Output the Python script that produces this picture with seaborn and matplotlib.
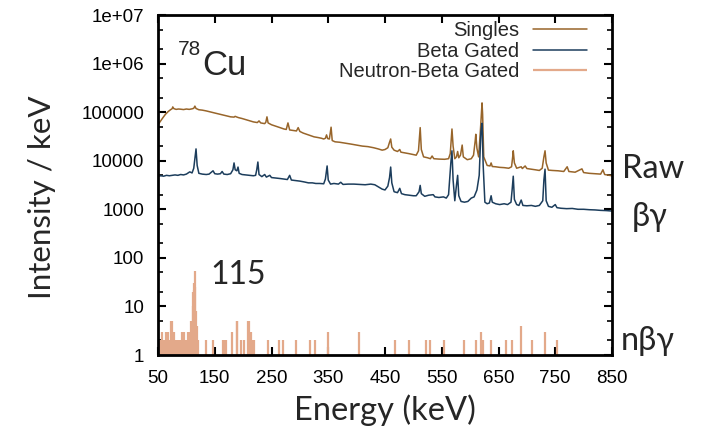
import matplotlib
matplotlib.use("Agg")

import numpy as np
import pandas as pd
import matplotlib.pyplot as plt
from matplotlib.ticker import LogLocator, FixedLocator, NullFormatter
import seaborn as sns

# -------------------------------
# SPECTRUM DATA
# -------------------------------

singles_e = [50, 53, 58, 63, 68, 72, 75, 76, 78, 82, 86, 90, 95, 100, 105, 110, 113, 115, 117,
             122, 128, 135, 142, 150, 158, 165, 172, 178, 184, 186, 188, 192, 198, 205, 212,
             218, 222, 225, 228, 231, 238, 240, 242, 244, 250, 258, 265, 272, 276, 279, 282,
             288, 294, 297, 300, 306, 312, 318, 325, 332, 338, 342, 345, 347, 349, 352, 355,
             357, 362, 370, 380, 390, 400, 410, 420, 430, 438, 445, 450, 455, 458, 460, 462,
             466, 472, 476, 478, 485, 492, 498, 505, 509, 512, 514, 518, 525, 530, 533, 536,
             545, 555, 562, 565, 568, 570, 573, 576, 578, 580, 583, 586, 588, 595, 602, 606,
             609, 610, 612, 615, 618, 620, 621, 622, 624, 630, 635, 637, 639, 645, 652, 660,
             668, 673, 675, 676, 678, 682, 690, 692, 697, 700, 708, 715, 722, 727, 730, 732,
             734, 738, 745, 755, 765, 771, 774, 785, 797, 800, 810, 820, 830, 834, 837, 845, 850]
singles_c = [55000, 62000, 75000, 90000, 103000, 112000, 118000, 128000, 118000, 114000, 116000,
             115000, 113000, 116000, 114000, 117000, 120000, 133000, 119000, 112000, 110000,
             106000, 101000, 96000, 91000, 87000, 83000, 80000, 79000, 82000, 80000, 77000,
             74000, 70000, 66000, 63000, 62000, 61000, 66000, 60000, 58000, 62000, 80000, 60000,
             55000, 51000, 48000, 45000, 44000, 60000, 43000, 42000, 41000, 48000, 40000, 37000,
             35000, 33000, 31000, 30000, 29000, 28000, 29000, 34000, 28500, 28000, 49000, 26000,
             24500, 24000, 23000, 22000, 21000, 20000, 19500, 18500, 17500, 16500, 17000, 18500,
             24000, 28000, 19000, 16500, 15500, 17000, 15000, 14500, 14000, 13500, 13000, 16000,
             48000, 17000, 12000, 11500, 11000, 12500, 11000, 10800, 10700, 11000, 14000, 45000,
             20000, 11000, 12000, 15500, 11500, 13000, 21000, 12000, 10500, 11000, 13000, 26000,
             35000, 18000, 12000, 40000, 100000, 155000, 90000, 12000, 8000, 7800, 9000, 7600,
             7500, 7300, 7200, 7000, 7500, 12000, 16000, 9000, 7000, 7500, 6900, 7800, 6900,
             6700, 6500, 6300, 7000, 12000, 16000, 9000, 6400, 6300, 6200, 6000, 7500, 6000,
             5800, 6800, 5700, 5500, 5400, 5300, 6500, 5200, 5000, 4900]

beta_e = [50, 55, 60, 65, 70, 75, 80, 85, 90, 95, 100, 106, 110, 113, 115, 117, 119, 122, 128,
          135, 140, 147, 150, 155, 160, 163, 166, 172, 178, 182, 184, 186, 189, 191, 193, 198,
          205, 212, 218, 222, 224, 226, 228, 233, 238, 241, 247, 250, 258, 265, 272, 278, 282,
          285, 292, 300, 308, 315, 322, 328, 335, 342, 345, 348, 350, 354, 360, 368, 372, 376,
          385, 395, 405, 415, 425, 432, 438, 445, 450, 455, 458, 460, 462, 466, 472, 476, 479,
          485, 492, 500, 505, 510, 512, 514, 520, 527, 535, 538, 545, 553, 558, 562, 566, 568,
          570, 573, 576, 578, 580, 584, 590, 596, 602, 607, 612, 616, 619, 621, 623, 626, 630,
          634, 637, 639, 645, 652, 660, 666, 672, 674, 676, 678, 682, 686, 690, 693, 700, 708,
          715, 722, 728, 730, 732, 734, 738, 744, 750, 753, 760, 770, 780, 790, 800, 810, 820,
          830, 840, 850]
beta_c = [4800, 4900, 4800, 5000, 4900, 5000, 5100, 5000, 5200, 5100, 5300, 5900, 5600, 7000,
          11000, 17500, 8000, 5500, 5300, 5200, 5300, 6200, 5400, 5300, 5400, 6000, 5300, 5200,
          5400, 6500, 9000, 6500, 6200, 7400, 5500, 5200, 5100, 5000, 4900, 5000, 6500, 9400,
          5200, 4700, 5200, 4600, 5000, 4500, 4400, 4300, 4200, 4100, 5000, 4000, 3900, 3800,
          3650, 3500, 3500, 3400, 3400, 3350, 4200, 7800, 4000, 3300, 3400, 3300, 3600, 3250,
          3300, 3300, 3250, 3200, 3300, 3200, 2900, 2600, 2500, 3000, 4500, 7400, 3500, 2300,
          2200, 2700, 2100, 2000, 1950, 1900, 1900, 2300, 3100, 2100, 1850, 1950, 2000, 1800,
          1750, 1800, 1700, 2000, 9000, 16000, 4000, 1500, 3200, 5000, 1900, 1450, 1400, 1450,
          1700, 1800, 2500, 5000, 40000, 59000, 8000, 1400, 1300, 1350, 1900, 1400, 1300, 1250,
          1300, 1250, 1400, 2500, 4800, 1600, 1250, 1200, 1550, 1200, 1180, 1200, 1150, 1200,
          1500, 4000, 6700, 1500, 1150, 1100, 1250, 1080, 1050, 1030, 1040, 1000, 1000, 980,
          970, 950, 940, 920]

nbeta_e = [53, 55, 57, 59, 62, 64, 67, 69, 71, 73, 75, 77, 79, 81, 85, 89, 93, 95, 97, 99, 102,
           105, 107, 109, 111, 112, 113, 114, 115, 116, 117, 118, 120, 134, 147, 164, 167, 169,
           180, 189, 190, 196, 202, 208, 210, 213, 216, 219, 243, 263, 271, 293, 318, 326, 349,
           404, 468, 493, 522, 529, 554, 590, 610, 619, 623, 637, 664, 673, 689, 709, 732, 753]
nbeta_c = [2, 2, 3, 2, 2, 3, 3, 2, 2, 5, 5, 3, 3, 2, 2, 2, 3, 3, 2, 2, 3,
           2, 3, 5, 10, 20, 30, 22, 53, 25, 8, 4, 2, 2, 2, 2, 2, 2,
           3, 5, 5, 2, 2, 5, 5, 3, 2, 2, 2, 2, 2, 2, 2, 2, 3,
           3, 2, 2, 2, 2, 2, 2, 2, 3, 2, 2, 2, 2, 4, 2, 3, 2]

x_ticks = [50, 150, 250, 350, 450, 550, 650, 750, 850]
y_ticks = [1, 10, 100, 1000, 10000, 100000, 1e6, 1e7]
y_tick_labels = ["1", "10", "100", "1000", "10000", "100000", "1e+06", "1e+07"]

series_names = ["Singles", "Beta Gated", "Neutron-Beta Gated"]
colors = {"Singles": "#98652a", "Beta Gated": "#1c3d5c", "Neutron-Beta Gated": "#e3a98a"}

# -------------------------------
# BUILD TABLE FOR SEABORN
# -------------------------------

spectra = pd.concat([
    pd.DataFrame({"Energy": singles_e, "Counts": singles_c, "Spectrum": "Singles"}),
    pd.DataFrame({"Energy": beta_e, "Counts": beta_c, "Spectrum": "Beta Gated"}),
])

# -------------------------------
# PLOT
# -------------------------------

sns.set_style("ticks")
plt.rcParams["font.family"] = ["Liberation Sans", "DejaVu Sans"]

fig = plt.figure(figsize=(7.03, 4.41), dpi=100)
ax = fig.add_axes([158 / 703, 86 / 441, 454 / 703, 340 / 441])

ax.vlines(nbeta_e, 1, nbeta_c, color=colors["Neutron-Beta Gated"], linewidth=1.6,
          label="Neutron-Beta Gated", zorder=1)

sns.lineplot(
    data=spectra,
    x="Energy",
    y="Counts",
    hue="Spectrum",
    palette=colors,
    estimator=None,
    sort=False,
    linewidth=1.1,
    ax=ax,
    zorder=2,
)

ax.set_yscale("log")
ax.set_xlim(50, 850)
ax.set_ylim(1, 1e7)

ax.xaxis.set_major_locator(FixedLocator(x_ticks))
ax.set_xticks(x_ticks)
ax.set_xticklabels([str(t) for t in x_ticks])
ax.set_yticks(y_ticks)
ax.set_yticklabels(y_tick_labels)
ax.yaxis.set_minor_locator(LogLocator(base=10, subs=(2.0, 5.0), numticks=20))
ax.yaxis.set_minor_formatter(NullFormatter())

ax.tick_params(axis="both", which="both", direction="in", top=True, right=True,
               labelsize=13.5, colors="black")
ax.tick_params(axis="both", which="major", length=6, width=1.5)
ax.tick_params(axis="y", which="minor", length=3.5, width=1.2)
ax.tick_params(axis="y", which="major", pad=10)
ax.tick_params(axis="x", which="major", pad=11)

for spine in ax.spines.values():
    spine.set_linewidth(2)
    spine.set_color("black")

label_font = ["Lato", "Open Sans", "DejaVu Sans"]
ax.set_xlabel("Energy (keV)", fontsize=23.5, family=label_font, labelpad=5)
ax.set_ylabel("Intensity / keV", fontsize=22.5, family=label_font)
ax.yaxis.set_label_coords(-0.225, 0.465)

# legend: text right aligned, sample line after the text
handles, labels = ax.get_legend_handles_labels()
order = [labels.index(n) for n in series_names]
ax.legend([handles[i] for i in order], [labels[i] for i in order],
          loc="upper right", frameon=False, markerfirst=False, fontsize=14.5,
          handlelength=2.7, handletextpad=0.65, labelspacing=0.07,
          borderpad=0, borderaxespad=0, bbox_to_anchor=(0.945, 0.981))

# annotations
ax.text(0.044, 0.882, "78", transform=ax.transAxes, fontsize=15)
ax.text(0.097, 0.824, "Cu", transform=ax.transAxes, fontsize=25)
ax.text(0.116, 0.209, "115", transform=ax.transAxes, fontsize=23, family=label_font)

fig.text(622 / 703, (441 - 178) / 441, "Raw", fontsize=23.5, family=label_font)
fig.text(632 / 703, (441 - 226) / 441, "βγ", fontsize=23.5, family=label_font)
fig.text(621 / 703, (441 - 350) / 441, "nβγ", fontsize=23.5, family=label_font)

fig.savefig("out.png", dpi=100)
